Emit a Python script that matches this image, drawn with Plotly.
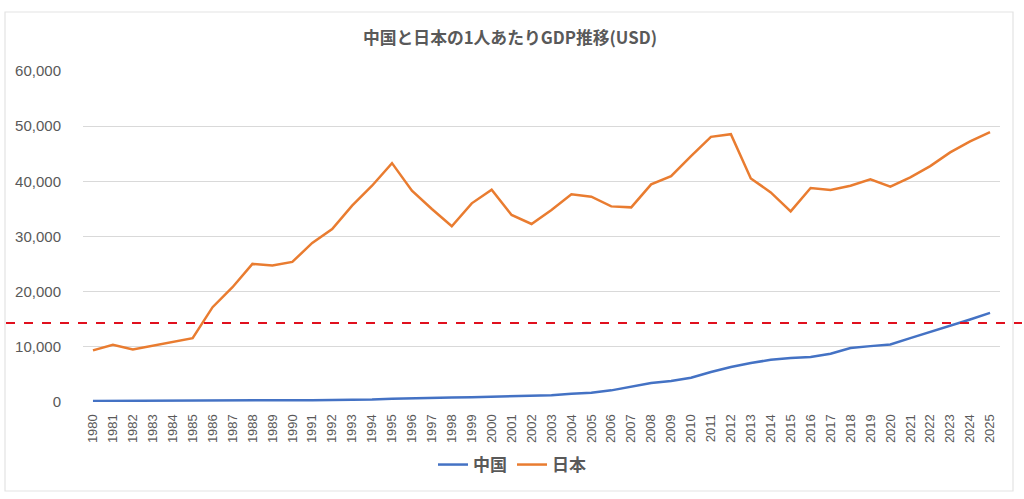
import plotly.graph_objects as go

years = list(range(1980, 2026))

china = [200, 200, 200, 250, 250, 290, 280, 250, 280, 310,
         320, 330, 370, 380, 470, 610, 710, 780, 830, 870,
         960, 1050, 1150, 1210, 1510, 1690, 2110, 2710, 3440, 3800,
         4400, 5430, 6330, 7060, 7660, 7960, 8140, 8750, 9770, 10130,
         10430, 11580, 12670, 13750, 14960, 16160]

japan = [9350, 10370, 9530, 10250, 10860, 11580, 17190, 20810, 25030, 24730,
         25390, 28830, 31360, 35590, 39200, 43300, 38300, 34980, 31850, 36010,
         38480, 33900, 32270, 34800, 37640, 37210, 35460, 35280, 39450, 40950,
         44570, 48070, 48550, 40530, 38000, 34560, 38780, 38420, 39200, 40350,
         39020, 40710, 42760, 45240, 47230, 48910]

threshold = 14300

W, H = 1024, 499
L, R, T, B = 83, 24, 71, 97
pw = W - L - R
ph = H - T - B

fig = go.Figure()
fig.add_trace(go.Scatter(x=years, y=china, name="<b>中国</b>", mode="lines",
                         line=dict(color="#4472C4", width=2.5)))
fig.add_trace(go.Scatter(x=years, y=japan, name="<b>日本</b>", mode="lines",
                         line=dict(color="#E97C30", width=2.5)))

def px_x(p):
    return (p - L) / pw

def px_y(p):
    return (H - B - p) / ph

# chart border
fig.add_shape(type="rect", xref="paper", yref="paper",
              x0=px_x(5), x1=px_x(1013), y0=px_y(491), y1=px_y(12),
              line=dict(color="#E3E3E3", width=1.2), layer="below")
# red dashed threshold line across the whole picture
fig.add_shape(type="line", xref="paper", yref="y",
              x0=px_x(6), x1=px_x(1022), y0=threshold, y1=threshold,
              line=dict(color="#E0101E", width=2, dash="dash"))

fig.update_layout(
    width=W, height=H,
    margin=dict(l=L, r=R, t=T, b=B, autoexpand=False),
    paper_bgcolor="white", plot_bgcolor="white",
    font=dict(family="Noto Sans CJK JP, Noto Sans, sans-serif", color="#595959"),
    title=dict(text="<b>中国と日本の1人あたりGDP推移(USD)</b>", x=px_x(510), xanchor="center",
               xref="paper", y=1 - 38 / H, yanchor="middle",
               font=dict(size=16.8, color="#595959")),
    showlegend=True,
    legend=dict(orientation="h", x=px_x(512), xanchor="center", xref="paper",
                y=px_y(465), yanchor="middle",
                font=dict(size=17, color="#595959"),
                itemwidth=30),
    xaxis=dict(range=[1979.5, 2025.5], tickmode="array", tickvals=years,
               ticktext=[str(y) for y in years], tickangle=-90,
               showgrid=False, zeroline=False, showline=False,
               ticks="outside", ticklen=6, tickcolor="white",
               tickfont=dict(size=13, color="#595959",
                             family="Liberation Sans, Noto Sans, sans-serif")),
    yaxis=dict(range=[0, 60000], tickvals=[0, 10000, 20000, 30000, 40000, 50000, 60000],
               tickformat=",", showgrid=True, gridcolor="#D9D9D9", gridwidth=1,
               zeroline=False, showline=False,
               ticks="outside", ticklen=18, tickcolor="white",
               tickfont=dict(size=15, color="#595959",
                             family="Liberation Sans, Noto Sans, sans-serif")),
)

fig.write_html("out.html", config={"displayModeBar": False},
               post_script="document.body.style.margin='0';")
